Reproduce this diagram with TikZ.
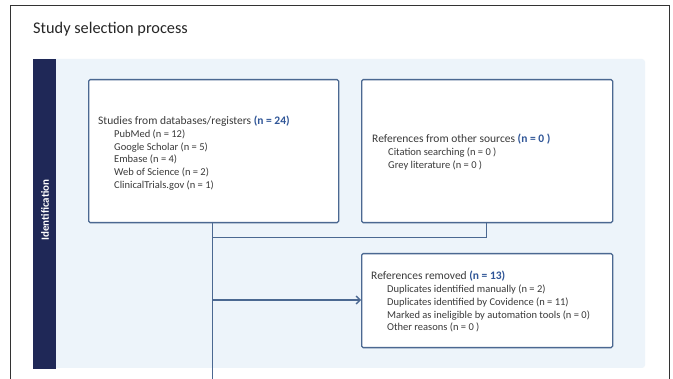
\documentclass[tikz,border=0pt]{standalone}
\usepackage{fontspec}
\setmainfont{Carlito}
\usetikzlibrary{arrows.meta}
\definecolor{navy}{HTML}{1F2857}
\definecolor{bordc}{HTML}{4B6891}
\definecolor{lightbg}{HTML}{EDF4FA}
\definecolor{hilite}{HTML}{2F5597}
\definecolor{txt}{HTML}{3A3A3A}
\tikzset{
  flowbox/.style={draw=bordc, line width=1.3pt, fill=white, rounded corners=1.5pt},
  conn/.style={draw=bordc, line width=1.3pt},
  blocktext/.style={anchor=base west, inner sep=0pt, text=txt, font=\fontsize{11.5}{12.8}\selectfont}
}
\newcommand{\hl}[1]{{\color{hilite}\bfseries #1}}
\newcommand{\subl}[1]{\hspace*{16pt}{\fontsize{10.5}{12.8}\selectfont #1}}
\begin{document}
\begin{tikzpicture}[x=1pt,y=-1pt]
\useasboundingbox (0,0) rectangle (673,379);
\fill[white] (0,0) rectangle (673,379);
% outer frame
\draw[line width=0.8pt, color=black!80] (10,379) -- (10,5) -- (669,5) -- (669,379);
% title
\node[anchor=base west, inner sep=0pt, text=black!85, font=\fontsize{16.3}{18}\selectfont] (title) at (33,33.5) {Study selection process};
% light background band
\fill[lightbg, rounded corners=3pt] (33,59) rectangle (645,368);
% navy side bar
\fill[navy] (33,59) rectangle (56,369);
\node[rotate=90, text=white, font=\fontsize{11}{12}\selectfont\bfseries, inner sep=0pt] (ident) at (45,210) {Identification};
% boxes
\node[flowbox, minimum width=250pt, minimum height=143pt, anchor=north west] (db) at (88,79) {};
\node[flowbox, minimum width=251pt, minimum height=143pt, anchor=north west] (other) at (361,79) {};
\node[flowbox, minimum width=251pt, minimum height=94pt, anchor=north west] (removed) at (361,253) {};
% box texts
\node[blocktext] (dbtext) at (98,124.5) {\begin{tabular}[t]{@{}l@{}}
Studies from databases/registers \hl{(n = 24)}\\
\subl{PubMed (n = 12)}\\
\subl{Google Scholar (n = 5)}\\
\subl{Embase (n = 4)}\\
\subl{Web of Science (n = 2)}\\
\subl{ClinicalTrials.gov (n = 1)}
\end{tabular}};
\node[blocktext] (othertext) at (372,143) {\begin{tabular}[t]{@{}l@{}}
References from other sources \hl{(n = 0 )}\\
\subl{Citation searching (n = 0 )}\\
\subl{Grey literature (n = 0 )}
\end{tabular}};
\node[blocktext] (remtext) at (371,279.5) {\begin{tabular}[t]{@{}l@{}}
References removed \hl{(n = 13)}\\[0.2pt]
\subl{Duplicates identified manually (n = 2)}\\
\subl{Duplicates identified by Covidence (n = 11)}\\
\subl{Marked as ineligible by automation tools (n = 0)}\\
\subl{Other reasons (n = 0 )}
\end{tabular}};
% connectors
\coordinate (dbout) at (212.5,222);
\coordinate (otherout) at (486.5,222);
\coordinate (merge) at (212.5,237.5);
\coordinate (split) at (212.5,300);
\coordinate (downend) at (212.5,379);
\draw[conn] (dbout) -- (downend);
\draw[conn] (otherout) -- (486.5,237.5) -- (merge);
\draw[conn, -{Straight Barb[length=4pt,width=8pt]}] (split) -- (removed.west |- split);
\end{tikzpicture}
\end{document}
